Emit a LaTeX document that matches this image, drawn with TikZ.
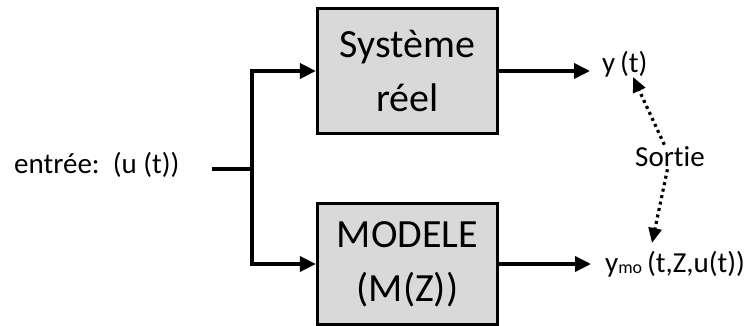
\documentclass[tikz,border=0pt]{standalone}
\usepackage{fontspec}
\setmainfont{Carlito}[Ligatures=NoCommon]
\usepackage{tikz}
\usetikzlibrary{arrows.meta,positioning,calc}

\definecolor{boxgray}{HTML}{D9D9D9}

\begin{document}
\begin{tikzpicture}[
  x=1pt, y=1pt,
  block/.style={rectangle, draw, line width=3.2pt, fill=boxgray, minimum width=180pt,
    align=center, font=\fontsize{40}{54}\selectfont},
  lbl/.style={inner sep=2pt, font=\fontsize{29}{32}\selectfont},
  sig/.style={line width=3.6pt, -{Triangle[length=16pt,width=15pt]}},
  wire/.style={line width=3.6pt},
  cmp/.style={line width=3.2pt, dash pattern=on 3pt off 3.6pt,
    -{Triangle[length=15pt,width=13pt]}}
]
\useasboundingbox (0,0) rectangle (744,-326);

% Blocks
\node[block, minimum height=125pt] (sys) at (407.5,-71)  {Système\\réel};
\node[block, minimum height=121pt] (mod) at (407.5,-264) {MODELE\\(M(Z))};

% Input and outputs
\node[lbl, anchor=west] (entree) at (12,-165) {entrée:~~(u (t))};
\coordinate (split) at (252,-169);
\node[lbl, anchor=west] (yt)  at (600,-64)  {y\,(t)};
\node[lbl, anchor=west] (ymo) at (603,-264)
  {y\raisebox{-0.12ex}{\fontsize{18}{18}\selectfont mo}\,(t,Z,u(t))};
\node[lbl] (sortie) at (670,-157) {Sortie};

% Tips of the comparison arrows
\coordinate (yttip)  at (633,-77);
\coordinate (ymotip) at (652,-243);

% Edges
\draw[wire, shorten <=30pt] (entree.east |- split) -- (split);
\draw[sig] (split) |- (sys.west);
\draw[sig] (split) |- (mod.west);
\draw[sig, shorten >=10pt] (sys.east) -- (sys.east -| yt.west);
\draw[sig, shorten >=12pt] (mod.east) -- (mod.east -| ymo.west);
\draw[cmp] (sortie) -- (yttip);
\draw[cmp] (sortie) -- (ymotip);

\end{tikzpicture}
\end{document}
